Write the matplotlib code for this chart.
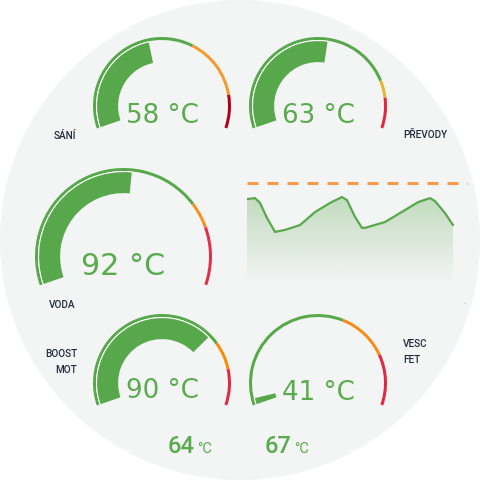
import numpy as np
import matplotlib
matplotlib.use("Agg")
import matplotlib.pyplot as plt
from matplotlib.patches import Wedge, Circle
from matplotlib.colors import to_rgb

plt.rcParams['font.family'] = ['Roboto', 'DejaVu Sans']
plt.rcParams['lines.scale_dashes'] = False

# ---------------- data ----------------
gauge_labels = ["SÁNÍ", "PŘEVODY", "VODA", "BOOST\nMOT", "VESC\nFET"]
gauge_values = [58, 63, 92, 90, 41]
gauge_min = [0, 0, 0, 0, 40]
gauge_max = [130, 117, 175, 127, 80]
gauge_warn = [81, 95, 130, 95, 64]
gauge_crit = [113, 103, 144, 109, 72]
warn_colors = ["#f59a2e", "#e6b731", "#f7901e", "#fb8a0c", "#f98c17"]
crit_colors = ["#b0001e", "#e0283c", "#e0304a", "#e02a45", "#e0283f"]

extra_values = [64, 67]

trend_t = [0, 8, 13, 20, 28, 38, 53, 68, 83, 95, 100, 108, 115, 118, 138, 158, 171, 183, 188, 198, 206]
trend_v = [93.7, 94.1, 92.2, 86.3, 80.8, 81.6, 83.5, 88.6, 92.2, 94.5, 93.3, 86.7, 82.4, 82.4, 84.7,
           89.4, 92.5, 94.1, 92.9, 88.2, 83.5]
trend_limit = 100

# ---------------- style / layout ----------------
GREEN = "#57a84b"
TEXT_GREEN = "#5aaa4e"
LABEL = "#1f2d3d"
BG = "#f3f4f4"
W = H = 480

fig = plt.figure(figsize=(4.8, 4.8), dpi=100)
fig.patch.set_facecolor("white")
ax = fig.add_axes([0, 0, 1, 1])
ax.set_xlim(0, W)
ax.set_ylim(0, H)
ax.set_aspect("equal")
ax.axis("off")

def Y(y):
    return H - y

ax.add_patch(Circle((240, Y(240)), 240, facecolor=BG, edgecolor="none", zorder=0))

A0, A1 = 199.0, -19.0
SPAN = A0 - A1

# gauge layout: (cx, cy, R, text size, text baseline y)
layout = [
    (162, 106, 67.5, 18.8, 123),
    (318, 106, 67.5, 18.8, 123),
    (123.5, 256.5, 87, 21.7, 275),
    (162, 383, 67.5, 18.8, 398),
    (318, 383, 67.5, 18.8, 400),
]

def ang(v, vmin, vmax):
    f = (v - vmin) / (vmax - vmin)
    f = min(max(f, 0), 1)
    return A0 - f * SPAN

for i, (cx, cy, R, fs, ty) in enumerate(layout):
    vmin, vmax = gauge_min[i], gauge_max[i]
    aw = ang(gauge_warn[i], vmin, vmax)
    ac = ang(gauge_crit[i], vmin, vmax)
    av = ang(gauge_values[i], vmin, vmax)
    if A0 - av < 5.5:
        av = A0 - 5.5
    c = (cx, Y(cy))
    # outer range arc
    ax.add_patch(Wedge(c, R + 1.5, aw, A0, width=3.0, facecolor=GREEN, edgecolor="none", zorder=2))
    ax.add_patch(Wedge(c, R + 1.5, ac, aw, width=3.0, facecolor=warn_colors[i], edgecolor="none", zorder=2))
    ax.add_patch(Wedge(c, R + 1.5, A1, ac, width=3.0, facecolor=crit_colors[i], edgecolor="none", zorder=2))
    # value bar
    ax.add_patch(Wedge(c, R - 1.5, av, A0, width=1.1, facecolor="white", edgecolor="none", zorder=2))
    ax.add_patch(Wedge(c, R - 2.6, av, A0, width=21.0, facecolor=GREEN, edgecolor="none", zorder=2))
    ax.text(cx, Y(ty), f"{gauge_values[i]} °C", ha="center", va="baseline",
            fontsize=fs, color=TEXT_GREEN, zorder=3, family=["DejaVu Sans"])

# labels
lab_fs = 7.2
kw = dict(va="baseline", fontsize=lab_fs, color=LABEL, fontweight="medium")
ax.text(54, Y(139), gauge_labels[0], ha="left", **kw)
ax.text(403, Y(138), gauge_labels[1], ha="left", **kw)
ax.text(49, Y(308), gauge_labels[2], ha="left", **kw)
b1, b2 = gauge_labels[3].split("\n")
ax.text(77, Y(357), b1, ha="right", **kw)
ax.text(77, Y(373), b2, ha="right", **kw)
v1, v2 = gauge_labels[4].split("\n")
ax.text(403, Y(347), v1, ha="left", **kw)
ax.text(403, Y(363), v2, ha="left", **kw)

# bottom values
for x0, val in zip([168, 265], extra_values):
    ax.text(x0, Y(453), f"{val}", ha="left", va="baseline", fontsize=17,
            color=TEXT_GREEN, fontweight="medium")
    ax.text(x0 + 29.5, Y(453), "°C", ha="left", va="baseline", fontsize=10.5, color=TEXT_GREEN)

ax.text(465, Y(305), "-", ha="center", va="baseline", fontsize=4, color="#7f8fa6")

# ---------------- trend chart ----------------
left_px, right_px, top_px, bot_px = 247, 468, 180, 290
tax = fig.add_axes([left_px / W, 1 - bot_px / H, (right_px - left_px) / W, (bot_px - top_px) / H])
tax.set_xlim(0, right_px - left_px)
tax.set_ylim(58.0, 101.2)
tax.axis("off")
tax.patch.set_alpha(0)

tax.axhline(trend_limit, color="#f79a4b", lw=2.2, linestyle=(0, (7.9, 6.5)), zorder=3)

t_arr = np.array(trend_t, dtype=float)
v_arr = np.array(trend_v, dtype=float)
ybot = 58.0
poly_x = np.concatenate([t_arr, [t_arr[-1], t_arr[0]]])
poly_y = np.concatenate([v_arr, [ybot, ybot]])
fill = tax.fill(poly_x, poly_y, facecolor="none", edgecolor="none")[0]

g = to_rgb(GREEN)
n = 256
alphas = np.linspace(0.0, 0.33, n)
grad = np.zeros((n, 1, 4))
grad[:, 0, 0] = g[0]
grad[:, 0, 1] = g[1]
grad[:, 0, 2] = g[2]
grad[:, 0, 3] = alphas
im = tax.imshow(grad, extent=[0, t_arr[-1], 61.0, 95.0], origin="lower", aspect="auto", zorder=1)
im.set_clip_path(fill)
tax.set_xlim(0, right_px - left_px)
tax.set_ylim(58.0, 101.2)

tax.plot(t_arr, v_arr, color="#5aa84e", lw=1.6, zorder=2, solid_capstyle="round",
         solid_joinstyle="round")

fig.savefig("out.png", dpi=100, facecolor="white")
